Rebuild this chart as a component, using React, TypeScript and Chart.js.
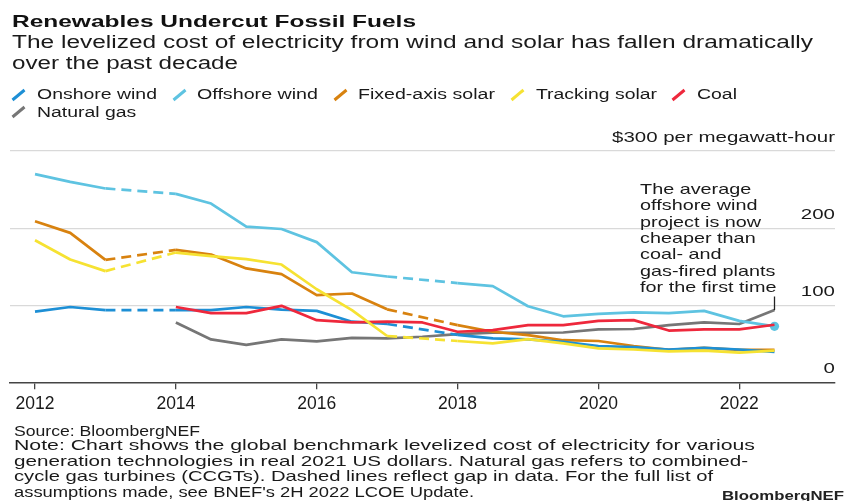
import React, { useEffect, useRef } from "react";
import { Chart, registerables } from "chart.js";

Chart.register(...registerables);

// ---------- DATA ----------
const years = [
  2012, 2012.5, 2013, 2013.5, 2014, 2014.5, 2015, 2015.5, 2016, 2016.5, 2017,
  2017.5, 2018, 2018.5, 2019, 2019.5, 2020, 2020.5, 2021, 2021.5, 2022, 2022.5,
];
const xTickYears = [2012, 2014, 2016, 2018, 2020, 2022];
const yTickValues = [0, 100, 200, 300];
const yUnitLabel = "$300 per megawatt-hour";

const onshoreWind = [92, 98, 94, null, 94, 94, 98, 94.5, 93, 79, 76, null, 62, 57.5, 56, 53, 47.5, 46, 43, 45, 43, 40];
const offshoreWind = [270, 260, 251.5, null, 244.5, 232, 202, 199, 182, 143, 137.5, null, 129, 125, 99, 86, 89, 91, 90, 93, 80, 73];
const fixedAxisSolar = [209, 194, 159, null, 172, 166, 148, 140.5, 113.5, 115.5, 95, null, 74.5, 66, 61.5, 55, 54, 47.5, 42.5, 45, 42.5, 42.5];
const trackingSolar = [184.5, 159.5, 144.5, null, 168.5, 164, 160, 153, 121, 94, 60.5, null, 54, 51, 56.5, 51, 44.5, 43, 40.5, 41.5, 39, 41.5];
const coal = [null, null, null, null, 98, 90, 90, 99.5, 81, 78, 79, 78, 66, 68, 74.5, 74.5, 80, 81, 67.5, 69, 69, 75];
const naturalGas = [null, null, null, null, 78, 56, 49, 56, 53.5, 58, 57.5, 59.5, 63, 64.7, 64.7, 65, 69, 69.5, 74.6, 78, 76, 94];

const seriesNames = ["Onshore wind", "Offshore wind", "Fixed-axis solar", "Tracking solar", "Coal", "Natural gas"];
const seriesValues = [onshoreWind, offshoreWind, fixedAxisSolar, trackingSolar, coal, naturalGas];
const seriesColors = ["#1d8fd5", "#5ec3e1", "#d8820f", "#f6e232", "#ee283c", "#767676"];
const seriesOrder = [3, 2, 4, 0, 1, 5]; // lower = drawn on top

const titleText = "Renewables Undercut Fossil Fuels";
const subtitleLines = [
  "The levelized cost of electricity from wind and solar has fallen dramatically",
  "over the past decade",
];
const annotationLines = [
  "The average",
  "offshore wind",
  "project is now",
  "cheaper than",
  "coal- and",
  "gas-fired plants",
  "for the first time",
];
const footerLines = [
  "Source: BloombergNEF",
  "Note: Chart shows the global benchmark levelized cost of electricity for various",
  "generation technologies in real 2021 US dollars. Natural gas refers to combined-",
  "cycle gas turbines (CCGTs). Dashed lines reflect gap in data. For the full list of",
  "assumptions made, see BNEF's 2H 2022 LCOE Update.",
];
const logoText = "BloombergNEF";

// ---------- LAYOUT ----------
const FAMILY = '"Liberation Sans", Arial, Helvetica, sans-serif';
const W = 850;
const H = 501;
const legendLayout = [
  { ix: 12, tx: 36.7, base: 99.3, w: 120 },
  { ix: 173, tx: 197, base: 99.3, w: 121 },
  { ix: 333.5, tx: 358, base: 99.3, w: 137 },
  { ix: 511, tx: 535.7, base: 99.3, w: 121 },
  { ix: 672, tx: 696.7, base: 99.3, w: 40 },
  { ix: 12, tx: 36.7, base: 116.7, w: 99.3 },
];
const footerWidths = [186, 741, 734, 699, 460];
const footerBaselines = [436, 450.5, 466, 481.5, 497];

const measureCanvas = typeof document !== "undefined" ? document.createElement("canvas") : null;
function textWidth(text: string, font: string): number {
  const c = measureCanvas!.getContext("2d")!;
  c.font = font;
  return c.measureText(text).width;
}

function FitText(props: {
  text: string;
  x: number;
  baseline: number;
  size: number;
  width: number;
  weight?: number;
  color?: string;
}) {
  const { text, x, baseline, size, width, weight = 400, color = "#1a1a1a" } = props;
  const font = `${weight} ${size}px ${FAMILY}`;
  const natural = textWidth(text, font);
  const sx = natural > 0 ? width / natural : 1;
  return (
    <div
      style={{
        position: "absolute",
        left: x,
        top: baseline - 0.8465 * size,
        fontFamily: FAMILY,
        fontSize: size,
        fontWeight: weight,
        lineHeight: `${size}px`,
        whiteSpace: "nowrap",
        color,
        transform: `scaleX(${sx})`,
        transformOrigin: "0 0",
      }}
    >
      {text}
    </div>
  );
}

function drawScaled(
  ctx: CanvasRenderingContext2D,
  text: string,
  x: number,
  y: number,
  font: string,
  color: string,
  align: "left" | "right",
  sx: number
) {
  ctx.save();
  ctx.font = font;
  ctx.fillStyle = color;
  ctx.textAlign = "left";
  ctx.textBaseline = "alphabetic";
  const w = ctx.measureText(text).width * sx;
  const left = align === "right" ? x - w : x;
  ctx.translate(left, y);
  ctx.scale(sx, 1);
  ctx.fillText(text, 0, 0);
  ctx.restore();
}

const overlayPlugin = {
  id: "overlay",
  afterDraw(chart: any) {
    const ctx: CanvasRenderingContext2D = chart.ctx;
    const xs = chart.scales.x;
    const ys = chart.scales.y;
    const area = chart.chartArea;

    // y-axis labels (right, above grid lines)
    const yFont = `400 15px ${FAMILY}`;
    ctx.save();
    ctx.font = yFont;
    const ySx = 223 / ctx.measureText(yUnitLabel).width;
    ctx.restore();
    yTickValues.forEach((v) => {
      const label = v === 300 ? yUnitLabel : String(v);
      drawScaled(ctx, label, area.right, ys.getPixelForValue(v) - 9.5, yFont, "#1a1a1a", "right", ySx);
    });

    // annotation
    const last = years.length - 1;
    const px = xs.getPixelForValue(years[last]);
    const aFont = `400 14.5px ${FAMILY}`;
    ctx.save();
    ctx.font = aFont;
    const aSx = 135.3 / ctx.measureText("gas-fired plants").width;
    ctx.restore();
    annotationLines.forEach((t, i) => {
      drawScaled(ctx, t, px - 134.4, 194 + i * 16.3, aFont, "#1a1a1a", "left", aSx);
    });
    // leader line to the natural gas point
    const gy = ys.getPixelForValue(naturalGas[last] as number);
    ctx.save();
    ctx.strokeStyle = "#222";
    ctx.lineWidth = 1.3;
    ctx.beginPath();
    ctx.moveTo(px, 296.5);
    ctx.lineTo(px, gy);
    ctx.stroke();
    ctx.restore();
  },
};

function LegendIcon({ x, base, color }: { x: number; base: number; color: string }) {
  return (
    <svg
      width={16}
      height={14}
      style={{ position: "absolute", left: x - 1, top: base - 11.5 }}
    >
      <line x1={1.5} y1={12} x2={13.5} y2={2} stroke={color} strokeWidth={3} />
    </svg>
  );
}

export default function App() {
  const canvasRef = useRef<HTMLCanvasElement | null>(null);

  useEffect(() => {
    const canvas = canvasRef.current;
    if (!canvas) return;
    const last = years.length - 1;
    const chart = new Chart(canvas, {
      type: "line",
      data: {
        datasets: seriesNames.map((name, si) => ({
          label: name,
          data: years.map((x, i) => ({ x, y: seriesValues[si][i] })),
          borderColor: seriesColors[si],
          backgroundColor: seriesColors[si],
          pointBackgroundColor: seriesColors[si],
          borderWidth: 2.7,
          pointBorderWidth: 0,
          pointRadius: (c: any) => (si === 1 && c.dataIndex === last ? 4.6 : 0),
          pointHoverRadius: 0,
          spanGaps: true,
          tension: 0,
          fill: false,
          borderJoinStyle: "round",
          order: seriesOrder[si],
          segment: {
            borderDash: (c: any) =>
              (c.p0 && c.p0.skip) || (c.p1 && c.p1.skip) || c.p1DataIndex - c.p0DataIndex > 1
                ? [10, 6]
                : undefined,
          },
        })),
      } as any,
      options: {
        animation: false,
        responsive: false,
        maintainAspectRatio: false,
        events: [],
        layout: { padding: { left: 10, right: 15, top: 151, bottom: 88.3 } },
        plugins: {
          legend: { display: false },
          tooltip: { enabled: false },
          title: { display: false },
        },
        scales: {
          x: {
            type: "linear",
            min: 2011.645,
            max: 2023.359,
            afterBuildTicks: (s: any) => {
              s.ticks = xTickYears.map((v) => ({ value: v }));
            },
            afterFit: (s: any) => {
              s.height = 30;
            },
            grid: {
              drawOnChartArea: false,
              drawTicks: true,
              tickLength: 6.5,
              color: "#444",
              lineWidth: 1.3,
            },
            border: { display: true, color: "#444", width: 1.5 },
            ticks: {
              autoSkip: false,
              maxRotation: 0,
              padding: 4.5,
              color: "#1a1a1a",
              font: { family: FAMILY, size: 17.5 },
              callback: (v: any) => String(v),
            },
          },
          y: {
            position: "right",
            min: 0,
            max: 300,
            afterBuildTicks: (s: any) => {
              s.ticks = yTickValues.map((v) => ({ value: v }));
            },
            afterFit: (s: any) => {
              s.width = 0;
            },
            ticks: { display: false },
            grid: {
              drawTicks: false,
              lineWidth: 1.3,
              color: (c: any) => (c.tick && c.tick.value === 0 ? "rgba(0,0,0,0)" : "#d9d9d9"),
            },
            border: { display: false },
          },
        },
      } as any,
      plugins: [overlayPlugin],
    });
    return () => chart.destroy();
  }, []);

  return (
    <div
      style={{
        position: "absolute",
        left: 0,
        top: 0,
        width: W,
        height: H,
        overflow: "hidden",
        background: "#fff",
      }}
    >
      <canvas ref={canvasRef} width={W} height={H} style={{ position: "absolute", left: 0, top: 0, width: W, height: H }} />
      <FitText text={titleText} x={12} baseline={27.3} size={16.5} width={404} weight={700} color="#111" />
      <FitText text={subtitleLines[0]} x={12} baseline={49.3} size={17.5} width={801} />
      <FitText text={subtitleLines[1]} x={12} baseline={70} size={17.5} width={226} />
      {seriesNames.map((name, i) => (
        <React.Fragment key={name}>
          <LegendIcon x={legendLayout[i].ix} base={legendLayout[i].base} color={seriesColors[i]} />
          <FitText
            text={name}
            x={legendLayout[i].tx}
            baseline={legendLayout[i].base}
            size={15.4}
            width={legendLayout[i].w}
          />
        </React.Fragment>
      ))}
      {footerLines.map((t, i) => (
        <FitText key={i} text={t} x={14} baseline={footerBaselines[i]} size={14.5} width={footerWidths[i]} />
      ))}
      <FitText text={logoText} x={722} baseline={500.5} size={13.5} width={122} weight={700} color="#222" />
    </div>
  );
}
